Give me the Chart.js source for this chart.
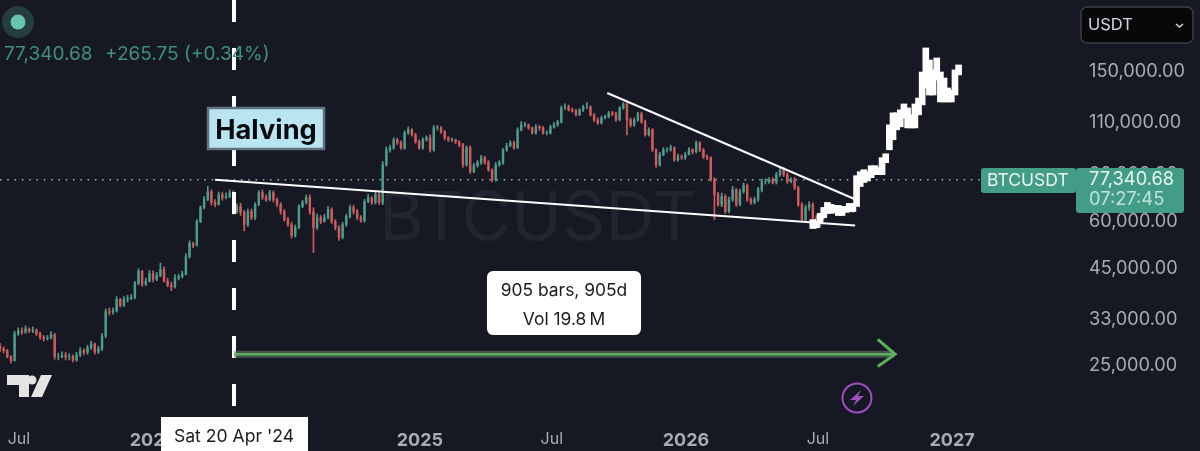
<!DOCTYPE html>
<html>
<head>
<meta charset="utf-8">
<style>
  html, body { margin: 0; padding: 0; background: #161823; }
  #wrap { position: relative; width: 1200px; height: 451px; }
</style>
<script src="https://cdn.jsdelivr.net/npm/chart.js@4/dist/chart.umd.min.js"></script>
</head>
<body>
<div id="wrap"><canvas id="btcChart" width="1200" height="451"></canvas></div>
<script>
// x axis is days counted from 5 Jun 2023
const tickDays = [26, 210, 576, 757, 941, 1122, 1306];
const tickLabels = ['Jul', '2024', '2025', 'Jul', '2026', 'Jul', '2027'];
const priceTicks = [25000, 33000, 45000, 60000, 80000, 110000, 150000];

// one candle every 5 days
const candleStep = 5;
const closes = [
  27300,27000,26000,25400,29900,30400,30200,30800,30400,30600,
  29900,29300,29000,29200,29700,26000,26000,26200,26000,26000,
  25500,26300,27000,26700,27500,28100,26800,27300,29500,34200,
  34100,34400,36900,35600,36900,37100,37300,40700,43800,40500,
  41200,43200,41700,42700,44300,41200,40200,39800,42000,42400,
  43000,47900,51900,51300,59300,64600,67800,71100,66600,65800,
  69900,68600,69000,70700,63000,65000,62700,58200,63000,60700,
  65800,70700,68600,67800,70700,67800,65800,63000,60000,58200,
  54500,57100,65000,66600,68600,63000,57100,60700,59300,60700,
  63800,59300,57100,53800,58200,61100,64600,63000,60700,59600,
  67000,68600,66600,69900,66600,83800,91800,92900,97600,95900,
  92900,101800,103700,100600,96400,92900,97600,98800,91800,104900,
  104900,102400,98800,97600,97600,96400,94700,83800,92900,80300,
  83300,84900,87500,84900,81300,76500,83800,84900,91800,94100,
  95900,92900,103700,106900,106900,104900,101800,105600,104900,101800,
  101800,105600,106900,108800,118500,119200,117100,116400,113600,117100,
  119200,119200,113600,110200,108100,111500,112200,115000,114300,110200,
  118500,121400,110200,106900,110200,114300,108800,100600,103700,91800,
  83800,89100,91800,91800,92900,86400,88000,87500,89100,91800,
  90700,95900,91800,88000,87500,76500,69900,65800,69000,63000,
  67800,72000,65800,71100,73800,67800,66600,67800,72000,75600,
  75600,76500,75200,78900,81300,78900,75600,76500,72900,65800,
  60000,64600,65800,60700,57900,60700,63000,64600,63000,64200,
  63000,63000,64200,63000,63800
];
const highs = [
  28200,27600,27200,26200,30400,31000,31000,31400,31000,31200,
  30800,30200,29600,29600,30300,30000,26600,26800,26700,26500,
  26300,26700,27500,27300,27900,28600,28300,27700,30000,34800,
  35000,35000,37500,37100,37500,37800,38000,41200,44500,44000,
  42000,44000,43900,43500,46000,45000,42000,41000,42900,43000,
  43800,48700,52700,52300,60000,65200,69000,73500,72000,67800,
  71000,70800,70600,71900,71500,66000,66300,63500,64000,64000,
  66500,71600,71900,69800,71700,71400,68400,66500,63700,60800,
  59000,58000,65700,67500,69700,69800,64500,62000,61500,62000,
  65000,64500,60000,57800,59000,62000,65500,65500,63800,61500,
  67800,70000,69000,71000,70500,85500,93500,94500,98800,98500,
  96900,103000,105500,104500,101500,97500,98800,100000,100500,106500,
  106500,105800,103300,99500,98800,98000,97000,95500,94000,94000,
  84500,86000,88800,88300,86000,81800,85000,86000,92500,95500,
  97000,96800,105000,109000,108500,107500,105500,107000,106500,106000,
  103000,106700,108500,110000,120000,121500,120500,118500,117500,118000,
  120500,122500,120000,114500,111500,112800,113500,116000,116000,115500,
  119500,122500,122000,111500,111500,115500,115500,110000,105000,104500,
  92500,90500,93000,93000,94500,93500,89500,89000,90500,93000,
  92500,97000,96500,92500,89000,88000,77500,70800,70500,69800,
  68800,73500,72500,72300,75000,74500,68500,68800,73000,76800,
  77000,77500,77500,80000,83000,82500,79800,77500,77500,73500,
  66500,65500,67000,66500,61500,62000,64000,65500,66000,65500,
  65000,64500,65000,65000,64800
];
const lows = [
  26800,26600,25800,25000,25300,29600,29800,30000,30100,30100,
  29600,28900,28600,28800,29000,25600,25500,25800,25500,25500,
  25200,25300,26000,26300,26400,27200,26400,26500,27000,29200,
  33500,33700,34100,35200,35300,36300,36800,37000,40300,39900,
  40100,41000,41000,41300,42300,41000,39800,38900,39500,41500,
  42000,42800,47400,50500,51000,58900,64000,67300,65500,64800,
  65500,67500,68000,68500,62000,62300,61500,56000,57500,60000,
  60000,65300,67800,67000,67300,66800,65000,62000,59400,57500,
  53600,53900,56800,64500,66000,62000,49100,56500,58500,59000,
  60200,58600,56300,52800,53300,57500,60500,62000,60000,59000,
  59000,66500,65800,66000,65800,65700,83000,90500,92000,94800,
  92000,92000,100800,99800,95500,92000,92000,96800,90500,91000,
  103500,101500,97500,96500,96500,95300,93500,82500,83000,79500,
  79800,82500,84000,84000,80500,75500,75800,83000,84000,91000,
  93500,92000,92500,103000,105500,104000,101000,101000,103500,101000,
  100500,101000,104800,106000,108000,117500,116200,115500,112800,113000,
  116000,118000,112800,109000,107200,107500,110800,111500,113000,109200,
  109500,117500,100500,105500,105800,109200,107800,99800,99800,90800,
  82500,83000,88500,90500,91000,85500,85500,86500,86500,89000,
  89500,90000,90800,87000,86500,75800,60000,65000,64900,62300,
  62500,67000,65000,65200,70500,67000,65800,66000,67000,71000,
  74500,74800,74500,74500,78000,78000,74800,75000,72000,65000,
  59200,59500,63500,60000,56800,57200,60000,62000,62500,62500,
  62200,62300,62500,62500,62700
];

// the white projected path drawn on top of the price
const ghostDays = [1115,1120,1125,1130,1135,1140,1145,1150,1155,1160,1165,1170,1175,1180,1185,1190,1195,1200,1205,1210,1215,1220,1225,1230,1235,1240,1245,1250,1255,1260,1265,1270,1275,1280,1285,1290,1295,1300,1305,1310,1315];
const ghostHighs = [60000,59300,62300,64600,66600,65800,65400,65400,65000,65000,66200,66200,78400,80300,81300,80300,83300,83300,82300,87500,89600,106900,115000,115000,117100,121400,118500,113600,121400,125900,147500,170800,158700,149400,160700,147500,142200,133800,132200,149400,154000];
const ghostLows = [56800,57100,58500,60700,62300,62300,62700,61500,61500,62700,63000,63000,65000,73400,75200,75900,77500,78900,78900,78900,84900,91800,97600,103700,105600,111500,104900,104900,104900,113600,120700,133800,128200,128200,140500,122900,122900,122900,122900,128200,144900];

// drawn trend lines and the measure tool
const priceLineLevel = 76500;
const lowerTrendDays = [295, 1173];
const lowerTrendPrices = [76500, 57900];
const upperTrendDays = [833, 1177];
const upperTrendPrices = [129800, 67400];
const halvingDay = 321;
const measureDays = [321, 1226];
const measurePrice = 26400;
const arrowDays = [1204, 1228, 1204];
const arrowPrices = [28900, 26400, 24500];

const GREEN = '#4f9c8b';
const RED = '#cf5c5c';
const FONT = 'Inter, sans-serif';

const opens = closes.map((c, i) => i === 0 ? 27800 : closes[i - 1]);
const candleDay = i => i * candleStep;
const candleColors = closes.map((c, i) => c >= opens[i] ? GREEN : RED);
const toPoints = (days, prices) => days.map((d, i) => ({ x: d, y: prices[i] }));

function lineSet(data, color, width, order, extra) {
  return Object.assign({
    type: 'line', data, borderColor: color, borderWidth: width,
    pointRadius: 0, fill: false, tension: 0, order
  }, extra || {});
}

// boxes, labels and logos that are not data marks
const overlayPlugin = {
  id: 'overlay',
  beforeDatasetsDraw(chart) {
    const c = chart.ctx;
    c.save();
    c.fillStyle = 'rgba(255,255,255,0.055)';
    c.font = '400 68px ' + FONT;
    c.textAlign = 'left';
    c.textBaseline = 'middle';
    c.fillText('BTCUSDT', 379, 220);
    c.restore();
  },
  afterDraw(chart) {
    const c = chart.ctx;
    c.save();

    // status dot + legend
    c.fillStyle = 'rgba(90,190,170,0.22)';
    c.beginPath(); c.arc(18, 22, 16, 0, Math.PI * 2); c.fill();
    c.fillStyle = '#66c4ae';
    c.beginPath(); c.arc(18, 22, 7.5, 0, Math.PI * 2); c.fill();
    c.fillStyle = '#3f8f7e';
    c.font = '400 19px ' + FONT;
    c.textAlign = 'left';
    c.textBaseline = 'middle';
    c.fillText('77,340.68', 4, 54);
    c.fillText('+265.75 (+0.34%)', 105, 54);

    // Halving box
    c.fillStyle = '#b9e5f0';
    c.strokeStyle = '#62707f';
    c.lineWidth = 2.5;
    c.fillRect(208, 108, 116, 41);
    c.strokeRect(208, 108, 116, 41);
    c.fillStyle = '#0b0b0f';
    c.font = '700 27.2px ' + FONT;
    c.textAlign = 'center';
    c.fillText('Halving', 266, 131);

    // measure label
    c.fillStyle = '#ffffff';
    c.beginPath(); c.roundRect(487, 271, 154, 64, 6); c.fill();
    c.fillStyle = '#1a1a1f';
    c.font = '400 17.4px ' + FONT;
    c.fillText('905 bars, 905d', 564, 291);
    c.fillText('Vol 19.8\u2009M', 564, 320);

    // crosshair date pill
    c.fillStyle = '#ffffff';
    c.fillRect(161, 417, 147, 34);
    c.fillStyle = '#1a1a1f';
    c.font = '400 17.6px ' + FONT;
    c.fillText("Sat 20 Apr '24", 234, 437);

    // price tags
    c.fillStyle = '#439c86';
    c.beginPath(); c.roundRect(981, 168, 95, 25, 3); c.fill();
    c.beginPath(); c.roundRect(1076, 168, 108, 45, 3); c.fill();
    c.fillStyle = '#e8f5f1';
    c.font = '400 17.5px ' + FONT;
    c.textAlign = 'left';
    c.fillText('BTCUSDT', 987, 181);
    c.font = '400 18.3px ' + FONT;
    c.fillText('77,340.68', 1089, 180);
    c.fillStyle = '#bfe3da';
    c.fillText('07:27:45', 1089, 200);

    // currency selector
    c.fillStyle = '#08080b';
    c.strokeStyle = '#3c3e46';
    c.lineWidth = 1.5;
    c.beginPath(); c.roundRect(1081, 7, 112, 36, 6); c.fill(); c.stroke();
    c.fillStyle = '#d6d8de';
    c.font = '400 16.5px ' + FONT;
    c.fillText('USDT', 1088, 25);
    c.strokeStyle = '#d6d8de';
    c.lineWidth = 1.5;
    c.beginPath(); c.moveTo(1176, 24); c.lineTo(1179.5, 27); c.lineTo(1183, 24); c.stroke();

    // TradingView mark
    c.fillStyle = '#e4e4e4';
    c.beginPath();
    c.moveTo(7, 375); c.lineTo(29, 375); c.lineTo(29, 397); c.lineTo(19, 397);
    c.lineTo(19, 385); c.lineTo(7, 385); c.closePath(); c.fill();
    c.beginPath(); c.arc(32, 380, 4.5, 0, Math.PI * 2); c.fill();
    c.beginPath();
    c.moveTo(41, 375); c.lineTo(52, 375); c.lineTo(42, 397); c.lineTo(31, 397);
    c.closePath(); c.fill();

    // lightning badge
    c.strokeStyle = '#a04fc0';
    c.lineWidth = 2;
    c.beginPath(); c.arc(857, 398, 14.5, 0, Math.PI * 2); c.stroke();
    c.fillStyle = '#a04fc0';
    c.beginPath();
    c.moveTo(861, 390); c.lineTo(850, 400); c.lineTo(856, 400); c.lineTo(853, 406);
    c.lineTo(864, 396); c.lineTo(858, 396); c.closePath(); c.fill();

    c.restore();
  }
};

const ctx = document.getElementById('btcChart').getContext('2d');
new Chart(ctx, {
  type: 'bar',
  plugins: [overlayPlugin],
  data: {
    datasets: [
      lineSet(toPoints(measureDays, [measurePrice, measurePrice]), '#5cb05a', 2.5, 1),
      lineSet(toPoints(arrowDays, arrowPrices), '#5cb05a', 3, 1),
      lineSet(toPoints(measureDays, [measurePrice, measurePrice]), 'rgba(110,130,110,0.55)', 7, 2),
      lineSet(toPoints(lowerTrendDays, lowerTrendPrices), '#ffffff', 2, 3),
      lineSet(toPoints(upperTrendDays, upperTrendPrices), '#ffffff', 2, 3),
      {
        type: 'bar', grouped: false, order: 4, barThickness: 6,
        backgroundColor: '#ffffff',
        data: ghostDays.map((d, i) => ({ x: d, y: [ghostLows[i], ghostHighs[i]] }))
      },
      lineSet(toPoints([halvingDay, halvingDay], [228800, 17680]), '#ffffff', 4, 5, { borderDash: [22, 26] }),
      {
        type: 'bar', grouped: false, order: 6, barThickness: 1.8,
        backgroundColor: candleColors,
        data: closes.map((c, i) => ({ x: candleDay(i), y: [opens[i], c] }))
      },
      {
        type: 'bar', grouped: false, order: 7, barThickness: 1,
        backgroundColor: candleColors,
        data: closes.map((c, i) => ({ x: candleDay(i), y: [lows[i], highs[i]] }))
      },
      lineSet(toPoints([0, 1344], [priceLineLevel, priceLineLevel]), '#8fc2b5', 1.5, 8, { borderDash: [1.5, 5.8] })
    ]
  },
  options: {
    responsive: false,
    animation: false,
    layout: { padding: 0 },
    plugins: { legend: { display: false }, tooltip: { enabled: false } },
    scales: {
      x: {
        type: 'linear',
        offset: false,
        min: 0,
        max: 1481.5,
        grid: { display: false, offset: false },
        border: { display: false },
        afterBuildTicks: s => { s.ticks = tickDays.map(v => ({ value: v })); },
        afterFit: s => { s.height = 31; s.paddingLeft = 0; s.paddingRight = 0; },
        ticks: {
          autoSkip: false,
          maxRotation: 0,
          padding: 2,
          color: '#a8abb5',
          callback: v => tickLabels[tickDays.indexOf(v)],
          font: ctx => ({
            family: FONT,
            size: ctx.tick && ctx.tick.label !== 'Jul' ? 18 : 16,
            weight: ctx.tick && ctx.tick.label !== 'Jul' ? '700' : '400'
          })
        }
      },
      y: {
        type: 'logarithmic',
        position: 'right',
        min: 17680,
        max: 228800,
        grid: { display: false },
        border: { display: false },
        afterBuildTicks: s => { s.ticks = priceTicks.map(v => ({ value: v })); },
        afterFit: s => { s.width = 120; s.paddingTop = 0; s.paddingBottom = 0; },
        ticks: {
          autoSkip: false,
          crossAlign: 'near',
          padding: 1,
          labelOffset: 2,
          color: '#a8abb5',
          font: { family: FONT, size: 18.2 },
          callback: v => v.toLocaleString('en-US', { minimumFractionDigits: 2 })
        }
      }
    }
  }
});
</script>
</body>
</html>
